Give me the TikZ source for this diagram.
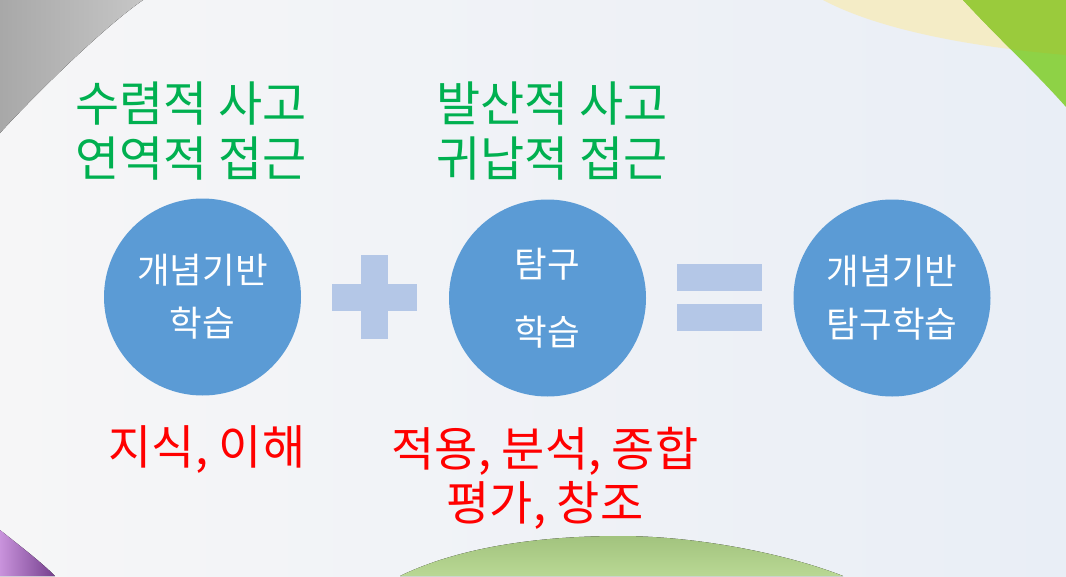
\documentclass[tikz,border=0pt]{standalone}
\usepackage{fontspec}
\setmainfont{Noto Sans CJK KR}
\definecolor{bgA}{HTML}{F6F6F7}
\definecolor{bgB}{HTML}{E9EEF6}
\definecolor{grayA}{HTML}{A8A8A8}
\definecolor{grayB}{HTML}{C6C6C6}
\definecolor{paleY}{HTML}{F4ECC6}
\definecolor{greenA}{HTML}{9ACB3C}
\definecolor{greenB}{HTML}{8ED246}
\definecolor{purpA}{HTML}{C993DC}
\definecolor{purpB}{HTML}{743F8D}
\definecolor{leafA}{HTML}{A2C37E}
\definecolor{leafB}{HTML}{B9D894}
\definecolor{circ}{HTML}{5B9BD5}
\definecolor{sign}{HTML}{B4C7E7}
\definecolor{txtG}{HTML}{00B050}
\definecolor{txtR}{HTML}{FF0000}
\tikzset{
  bubble/.style={circle, fill=circ, minimum size=197pt, inner sep=0pt, text=white, align=center, font=\fontsize{35.5}{53}\selectfont},
  headtxt/.style={text=txtG, align=center, inner sep=0pt, font=\fontsize{48}{55}\selectfont},
  redtxt/.style={text=txtR, align=center, inner sep=0pt, font=\fontsize{47}{54}\selectfont},
  signbar/.style={fill=sign}
}
\begin{document}
\begin{tikzpicture}[x=1pt,y=-1pt]
\useasboundingbox (0,0) rectangle (1066,576);
% background
\fill[left color=bgA, right color=bgB] (0,0) rectangle (1066,576);
% top-left gray
\fill[left color=grayA, right color=grayB] (0,0) -- (143,0) .. controls (100,30) and (30,100) .. (0,133) -- cycle;
% top-right yellow and green
\fill[paleY] (823,0) .. controls (870,25) and (950,45) .. (1066,55) -- (1066,0) -- cycle;
\fill[greenB] (963,0) .. controls (1000,40) and (1035,72) .. (1066,107) -- (1066,0) -- cycle;
\begin{scope}
  \clip (823,0) .. controls (870,25) and (950,45) .. (1066,55) -- (1066,0) -- cycle;
  \fill[greenA] (963,0) .. controls (1000,40) and (1035,72) .. (1066,107) -- (1066,0) -- cycle;
\end{scope}
% bottom-left purple
\fill[left color=purpA, right color=purpB] (0,530) .. controls (20,546) and (40,561) .. (55,576) -- (0,576) -- cycle;
% bottom green arc
\fill[top color=leafA, bottom color=leafB] (400,576) .. controls (470,542) and (560,536) .. (620,536) .. controls (700,536) and (790,555) .. (843,576) -- cycle;
% headings
\node[headtxt] (h1) at (191,131) {수렴적 사고\\연역적 접근};
\node[headtxt] (h2) at (552,131) {발산적 사고\\귀납적 접근};
% circles
\node[bubble] (c1) at (202.5,297) {개념기반\\학습};
\node[bubble] (c2) at (547.5,298) {탐구\\[15pt]학습};
\node[bubble] (c3) at (892,298) {개념기반\\탐구학습};
% plus sign
\fill[signbar] (332,284) rectangle (417,311);
\fill[signbar] (361,255) rectangle (388,339);
% equals sign
\fill[signbar] (677,264) rectangle (762,291);
\fill[signbar] (677,304) rectangle (762,331);
% red texts
\node[redtxt] (r1) at (207,450) {지식, 이해};
\node[redtxt] (r2) at (545,478) {적용, 분석, 종합\\평가, 창조};
\end{tikzpicture}
\end{document}
